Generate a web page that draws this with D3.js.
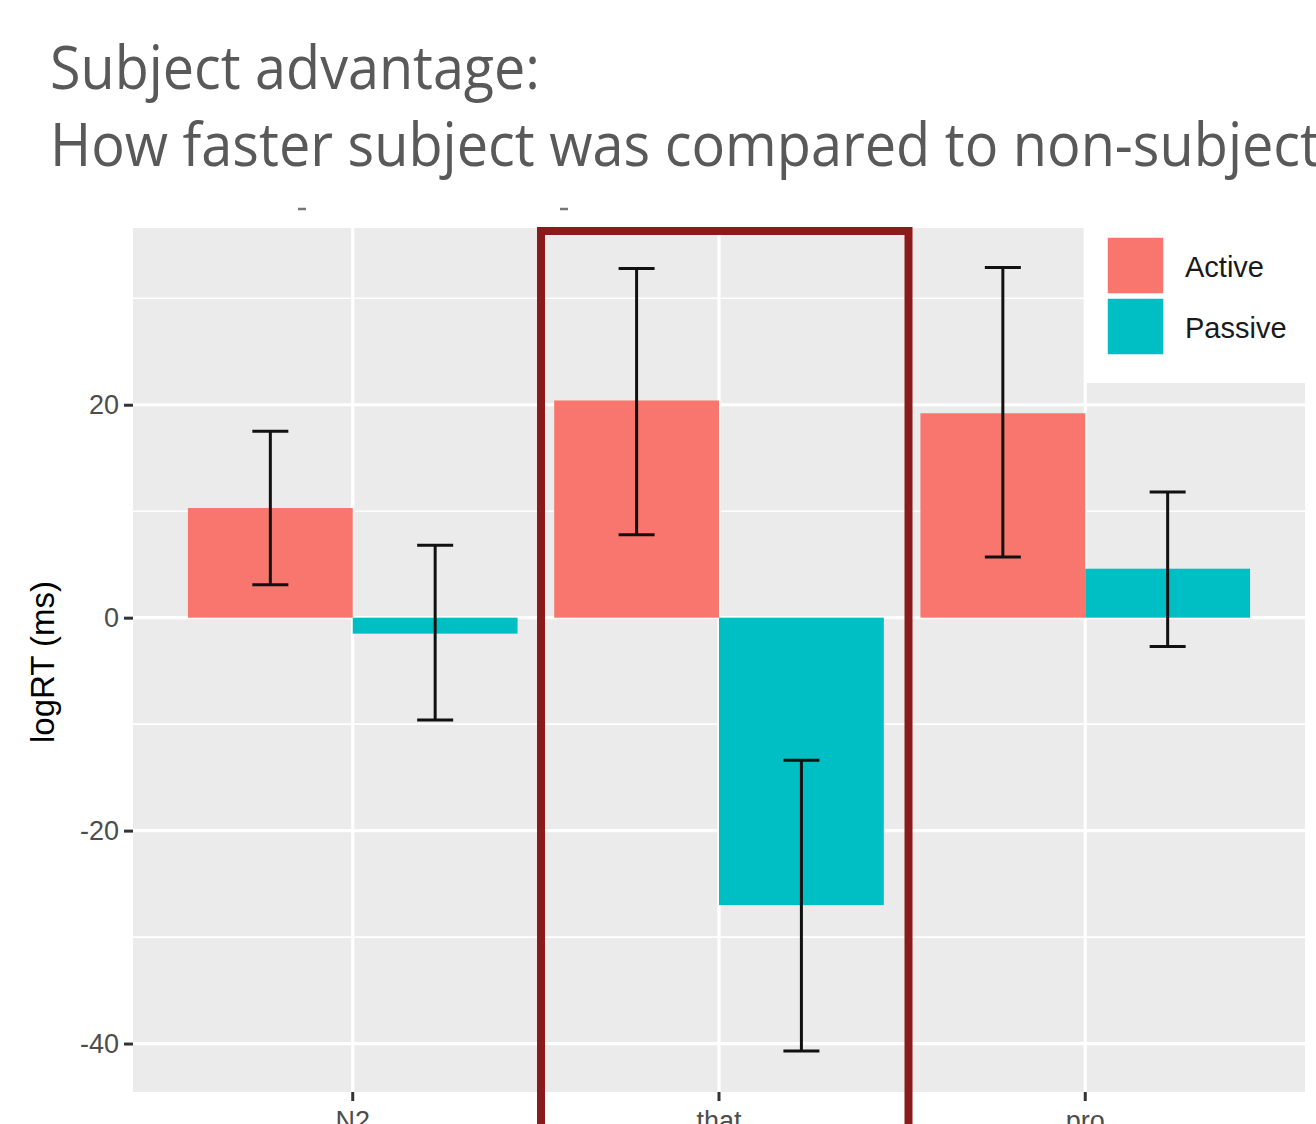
<!DOCTYPE html>
<html>
<head>
<meta charset="utf-8">
<script src="https://cdn.jsdelivr.net/npm/d3@7"></script>
<style>
  body { margin: 0; background: #fff; overflow: hidden; }
  svg { display: block; }
</style>
</head>
<body>
<svg id="chart" width="1316" height="1124"></svg>
<script>
var categories = ["N2", "that", "pro"];
var conditions = ["Active", "Passive"];
var meanActive = [10.3, 20.4, 19.2];
var meanPassive = [-1.5, -27.0, 4.6];
var lowActive = [3.1, 7.8, 5.7];
var highActive = [17.5, 32.8, 32.9];
var lowPassive = [-9.6, -40.7, -2.7];
var highPassive = [6.8, -13.4, 11.8];
var yTicks = [-40, -20, 0, 20];
var yMinor = [-30, -10, 10, 30];
var colors = ["#F8766D", "#00BFC4"];

var rows = [];
categories.forEach(function(c, i) {
    rows.push({cat: c, cond: "Active", mean: meanActive[i], lo: lowActive[i], hi: highActive[i]});
    rows.push({cat: c, cond: "Passive", mean: meanPassive[i], lo: lowPassive[i], hi: highPassive[i]});
});

var svg = d3.select("#chart");
var panel = {left: 133, right: 1305, top: 228, bottom: 1092};

// title (slide text)
svg.append("text")
    .attr("x", 50).attr("y", 89)
    .attr("textLength", 490).attr("lengthAdjust", "spacingAndGlyphs")
    .style("font-family", "Open Sans").style("font-size", "60px")
    .style("fill", "#595959")
    .text("Subject advantage:");
svg.append("text")
    .attr("x", 50).attr("y", 166)
    .attr("textLength", 1270).attr("lengthAdjust", "spacingAndGlyphs")
    .style("font-family", "Open Sans").style("font-size", "60px")
    .style("fill", "#595959")
    .text("How faster subject was compared to non-subject");

// leftovers of a cropped plot title
svg.selectAll(".stub")
    .data([302, 564])
    .enter().append("line")
    .attr("x1", function(d) { return d - 4; })
    .attr("x2", function(d) { return d + 4; })
    .attr("y1", 209).attr("y2", 209)
    .style("stroke", "#777").style("stroke-width", 2.5);

var y = d3.scaleLinear().domain([-44.55, 36.6]).range([panel.bottom, panel.top]);
var x = d3.scaleBand().domain(categories).range([panel.left, panel.right])
    .paddingInner(0.1).paddingOuter(0.15);
var xSub = d3.scaleBand().domain(conditions).range([0, x.bandwidth()]);
var color = d3.scaleOrdinal().domain(conditions).range(colors);

svg.append("rect")
    .attr("x", panel.left).attr("y", panel.top)
    .attr("width", panel.right - panel.left).attr("height", panel.bottom - panel.top)
    .style("fill", "#EBEBEB");

svg.selectAll(".minor")
    .data(yMinor)
    .enter().append("line")
    .attr("x1", panel.left).attr("x2", panel.right)
    .attr("y1", function(d) { return y(d); }).attr("y2", function(d) { return y(d); })
    .style("stroke", "#fff").style("stroke-width", 1.6);

svg.selectAll(".major")
    .data(yTicks)
    .enter().append("line")
    .attr("x1", panel.left).attr("x2", panel.right)
    .attr("y1", function(d) { return y(d); }).attr("y2", function(d) { return y(d); })
    .style("stroke", "#fff").style("stroke-width", 3.2);

svg.selectAll(".vmajor")
    .data(categories)
    .enter().append("line")
    .attr("x1", function(d) { return x(d) + x.bandwidth() / 2; })
    .attr("x2", function(d) { return x(d) + x.bandwidth() / 2; })
    .attr("y1", panel.top).attr("y2", panel.bottom)
    .style("stroke", "#fff").style("stroke-width", 3.2);

// bars
svg.selectAll(".bar")
    .data(rows)
    .enter().append("rect")
    .attr("x", function(d) { return x(d.cat) + xSub(d.cond); })
    .attr("width", xSub.bandwidth())
    .attr("y", function(d) { return y(Math.max(0, d.mean)); })
    .attr("height", function(d) { return Math.abs(y(d.mean) - y(0)); })
    .style("fill", function(d) { return color(d.cond); });

// error bars
var half = 18;
var eb = svg.selectAll(".err")
    .data(rows)
    .enter().append("g")
    .attr("transform", function(d) {
        return "translate(" + (x(d.cat) + xSub(d.cond) + xSub.bandwidth() / 2) + ",0)";
    });
eb.append("line")
    .attr("x1", 0).attr("x2", 0)
    .attr("y1", function(d) { return y(d.hi); })
    .attr("y2", function(d) { return y(d.lo); });
eb.append("line")
    .attr("x1", -half).attr("x2", half)
    .attr("y1", function(d) { return y(d.hi); })
    .attr("y2", function(d) { return y(d.hi); });
eb.append("line")
    .attr("x1", -half).attr("x2", half)
    .attr("y1", function(d) { return y(d.lo); })
    .attr("y2", function(d) { return y(d.lo); });
eb.selectAll("line").style("stroke", "#111").style("stroke-width", 3);

// axes
var yAxis = svg.append("g")
    .attr("transform", "translate(" + panel.left + ",0)")
    .call(d3.axisLeft(y).tickValues(yTicks).tickSize(9).tickPadding(5)
        .tickFormat(function(d) { return String(d); }));
var xAxis = svg.append("g")
    .attr("transform", "translate(0," + panel.bottom + ")")
    .call(d3.axisBottom(x).tickSize(9).tickPadding(10));
[yAxis, xAxis].forEach(function(a) {
    a.select(".domain").remove();
    a.selectAll(".tick line").style("stroke", "#333").style("stroke-width", 3);
    a.selectAll(".tick text")
        .style("font-family", "Liberation Sans, Arial, sans-serif")
        .style("font-size", "27px").style("fill", "#4D4D4D");
});

svg.append("text")
    .attr("transform", "translate(54,662) rotate(-90)")
    .style("text-anchor", "middle")
    .style("font-family", "Liberation Sans, Arial, sans-serif")
    .style("font-size", "33px").style("fill", "#000")
    .text("logRT (ms)");

// legend
var legend = svg.append("g");
legend.append("rect")
    .attr("x", 1085).attr("y", panel.top)
    .attr("width", panel.right - 1085).attr("height", 155)
    .style("fill", "#fff");
var keys = legend.selectAll(".key")
    .data(conditions)
    .enter().append("g")
    .attr("transform", function(d, i) { return "translate(1107," + (237 + i * 61) + ")"; });
keys.append("rect")
    .attr("width", 57).attr("height", 57)
    .style("fill", function(d) { return color(d); })
    .style("stroke", "#fff").style("stroke-width", 1.5);
keys.append("text")
    .attr("x", 78).attr("y", 40)
    .style("font-family", "Liberation Sans, Arial, sans-serif")
    .style("font-size", "29px").style("fill", "#1a1a1a")
    .text(function(d) { return d; });

// highlight box around "that"
svg.append("rect")
    .attr("x", 541).attr("y", 231)
    .attr("width", 367.5).attr("height", 1000)
    .style("fill", "none")
    .style("stroke", "#8A1B1D").style("stroke-width", 8);
</script>
</body>
</html>
